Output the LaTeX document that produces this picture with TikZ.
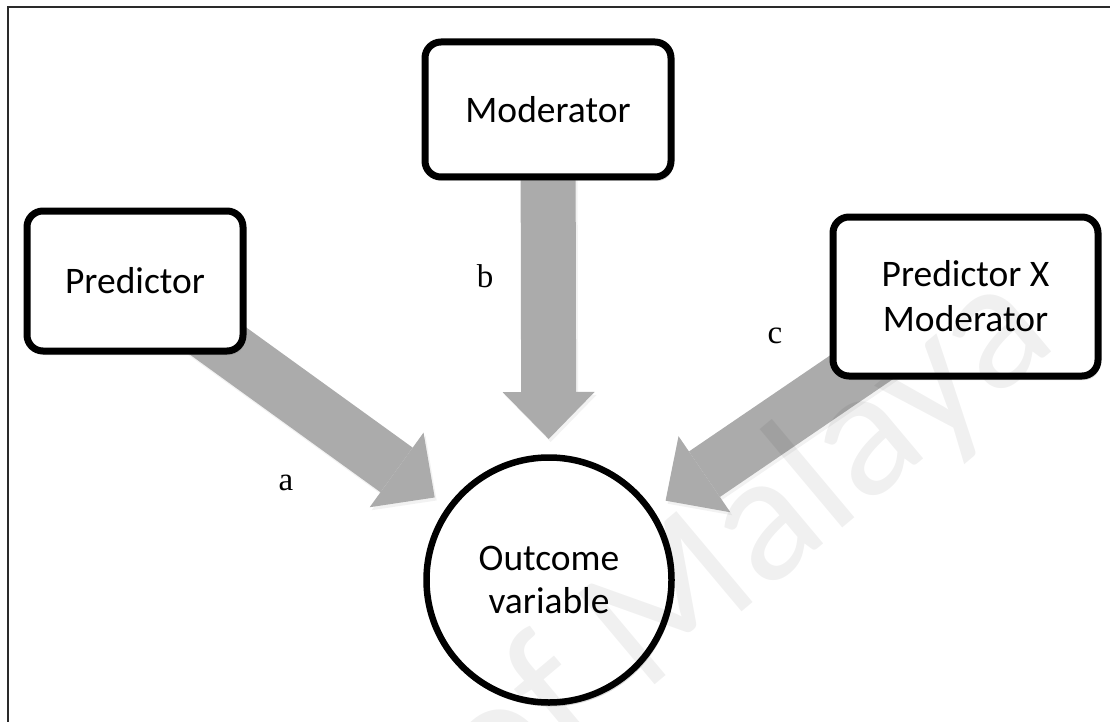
\documentclass[tikz,border=0pt]{standalone}
\usepackage{fontspec}
\setmainfont{Liberation Serif}
\newfontfamily\boxfont{Carlito}
\usetikzlibrary{arrows.meta,shadows}
\definecolor{arrowgray}{HTML}{ABABAB}
\definecolor{framegray}{HTML}{2A2A2A}
\begin{document}
\begin{tikzpicture}[x=1pt,y=-1pt,
  varbox/.style={draw=black, line width=7pt, fill=white, rounded corners=16pt,
    minimum width=#1, align=center, font=\boxfont\fontsize{37.5}{45}\selectfont,
    drop shadow={shadow xshift=2pt, shadow yshift=-4pt, opacity=0.3}},
  outcome/.style={draw=black, line width=6.5pt, fill=white, circle, minimum size=245pt,
    align=center, font=\boxfont\fontsize{37.5}{43}\selectfont,
    drop shadow={shadow xshift=2pt, shadow yshift=-4pt, opacity=0.3}},
  blockarrow/.style={draw=arrowgray, line width=55pt, shorten >=141pt,
    -{Triangle[length=47pt, width=92pt, line width=0pt]}},
  arrowshade/.style={draw=black, opacity=0.05, line width=55pt, shorten >=141pt,
    -{Triangle[length=47pt, width=92pt, line width=0pt]}},
  pathlabel/.style={anchor=base, font=\fontsize{33}{36}\selectfont},
]
\useasboundingbox (0,0) rectangle (1110,722);

% frame (top and left rules)
\draw[framegray, line width=2pt] (1110,7) -- (8,7) -- (8,722);

% node centres
\coordinate (pc) at (135,281);
\coordinate (mc) at (548,109.5);
\coordinate (ic) at (965.5,296.5);
\coordinate (oc) at (549,580);

% block arrows (drawn first so the boxes sit on top of their tails)
\draw[arrowshade, transform canvas={shift={(2pt,-3pt)}}] (pc) -- (oc);
\draw[arrowshade, transform canvas={shift={(2pt,-3pt)}}] (mc) -- (oc);
\draw[arrowshade, transform canvas={shift={(2pt,-3pt)}}] (ic) -- (oc);
\draw[blockarrow] (pc) -- (oc);
\draw[blockarrow] (mc) -- (oc);
\draw[blockarrow] (ic) -- (oc);

% variables
\node[varbox=216pt, minimum height=140pt] (pred) at (pc) {Predictor};
\node[varbox=246pt, minimum height=135pt] (mod) at (mc) {Moderator};
\node[varbox=265pt, minimum height=159pt] (inter) at (ic) {Predictor X\\Moderator};
\node[outcome] (out) at (oc) {Outcome\\variable};

% path labels
\node[pathlabel] (la) at (286,490) {a};
\node[pathlabel] (lb) at (485,287) {b};
\node[pathlabel] (lc) at (775,343) {c};

% faint lettering laid over everything
\node[text=black, text opacity=0.06, rotate=40, font=\boxfont\fontsize{185}{185}\selectfont]
  (mark) at (745,545) {of Malaya};
\end{tikzpicture}
\end{document}
